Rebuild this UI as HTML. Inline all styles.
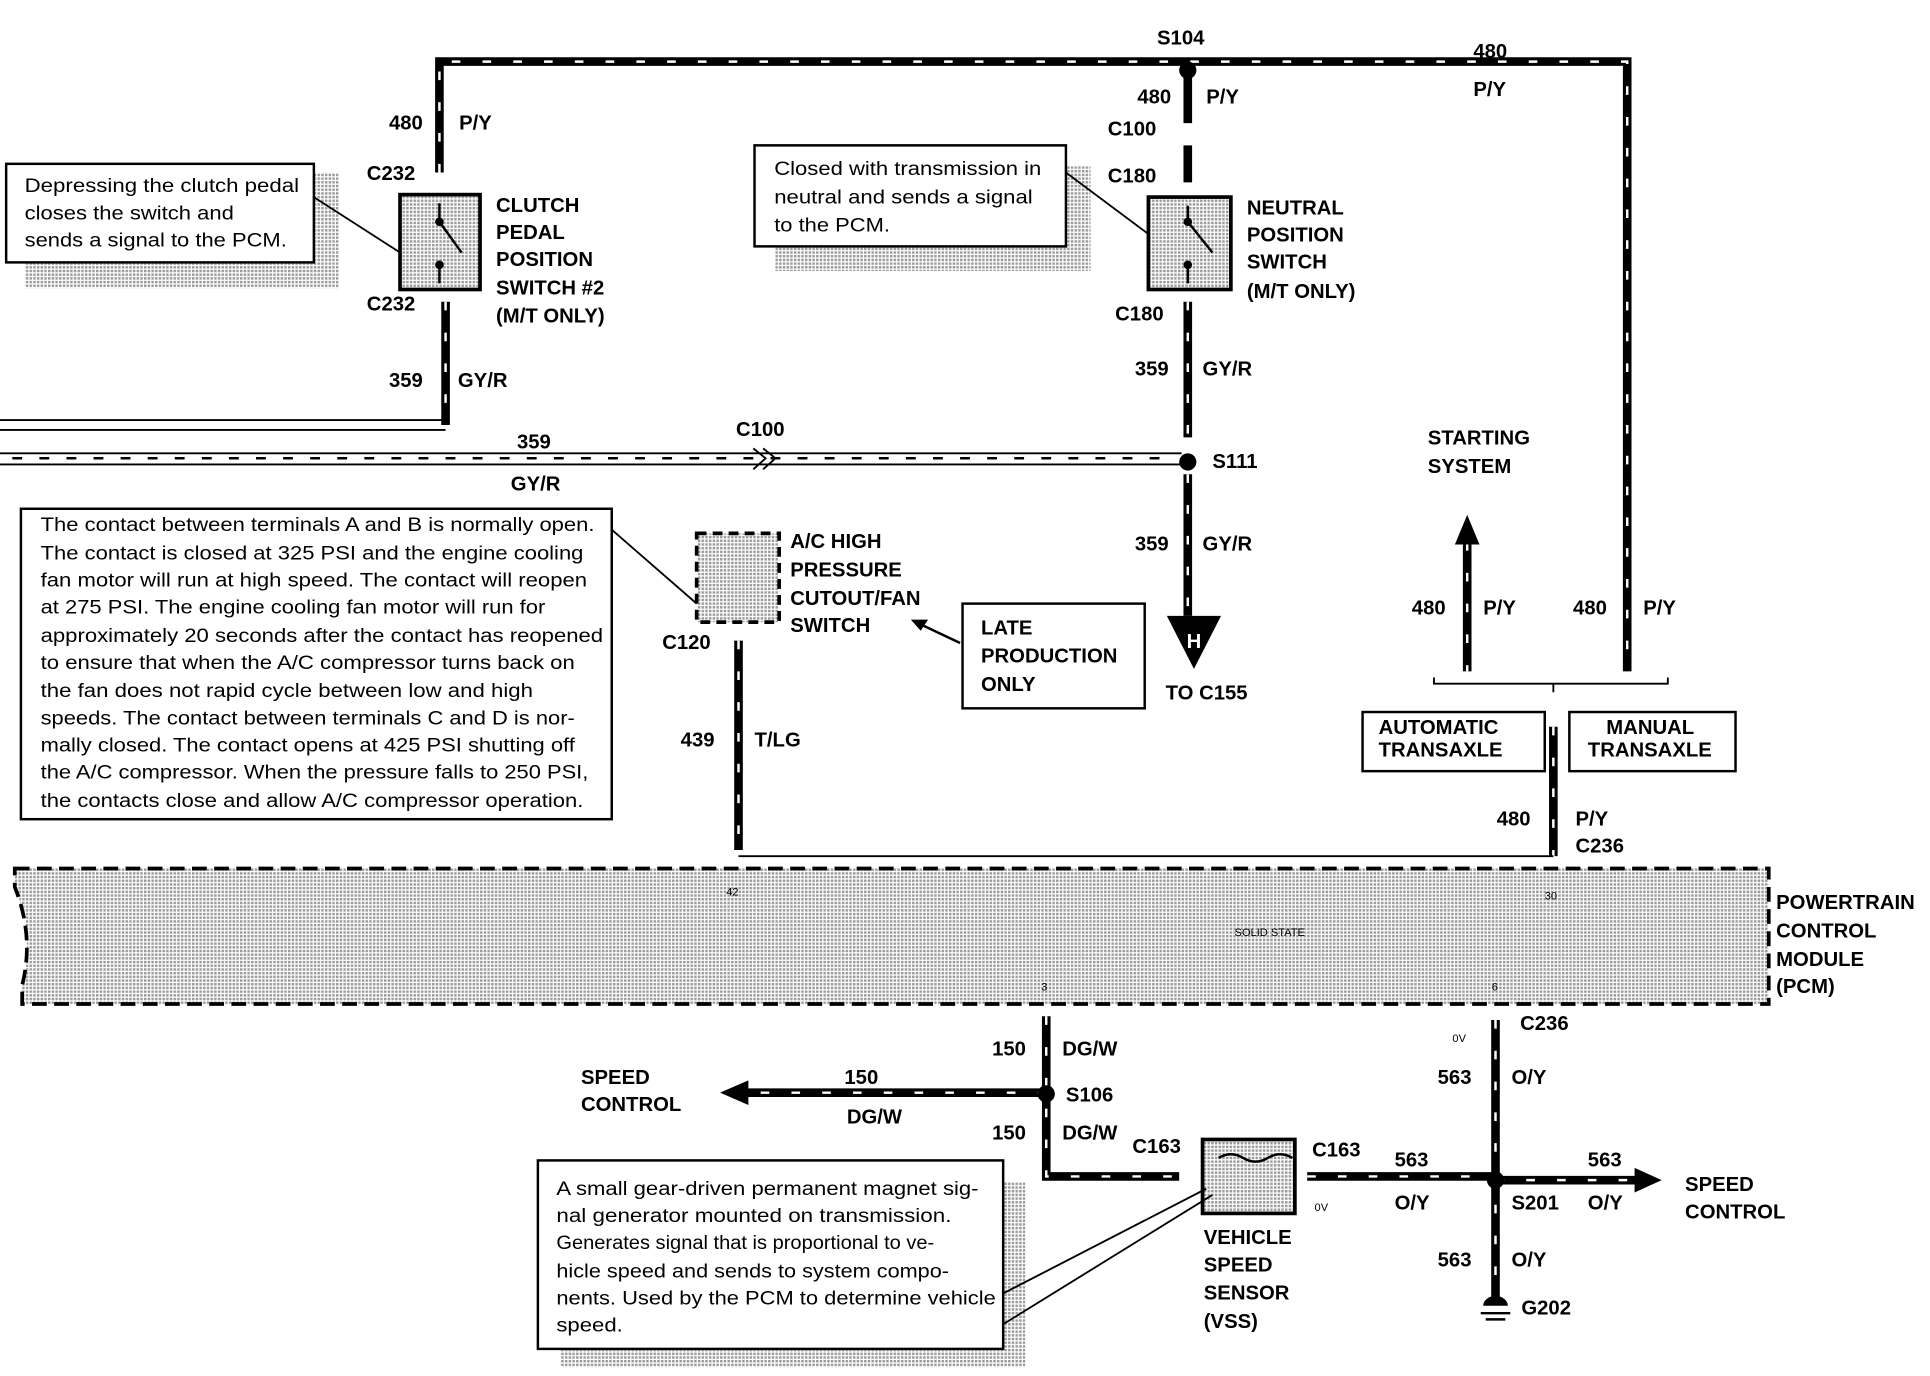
<!DOCTYPE html>
<html><head><meta charset="utf-8"><style>
html,body{margin:0;padding:0;background:#fff;}
svg{display:block;}
text{font-family:"Liberation Sans",Arial,sans-serif;fill:#000;}
.b{font-weight:bold;font-size:16.5px;}
.n{font-size:15.5px;}
.s{font-size:9px;}
</style></head><body>
<svg width="1930" height="1376" viewBox="0 0 1568 1117" preserveAspectRatio="none" xmlns="http://www.w3.org/2000/svg">
<defs>
<pattern id="st" width="3" height="3" patternUnits="userSpaceOnUse"><rect width="3" height="3" fill="#fff"/><rect width="2" height="2" fill="#9a9a9a"/></pattern>
</defs>
<g fill="none" stroke="#000" stroke-width="7">
<path d="M357 140 V50 H1322 V545"/>
<path d="M965 50 V100"/><path d="M965 118 V148"/>
<path d="M965 245 V355"/><path d="M965 385 V500"/>
<path d="M362 245 V345"/>
<path d="M600 520 V690"/>
<path d="M1262 590 V695"/>
<path d="M1192 440 V545"/>
<path d="M850 825 V955 H958"/>
<path d="M850 887 H605"/>
<path d="M1062 955 H1215"/>
<path d="M1215 828 V1058"/>
<path d="M1215 958 H1335"/>
</g>
<g fill="none" stroke="#fff" stroke-width="2" stroke-dasharray="7 18">
<path d="M357 140 V50 H1322 V545"/>
<path d="M965 245 V355"/><path d="M965 385 V500"/>
<path d="M362 245 V345"/><path d="M600 520 V690"/><path d="M1262 590 V695"/>
<path d="M1192 440 V545"/><path d="M850 825 V955 H958"/><path d="M850 887 H605"/>
<path d="M1062 955 H1215"/><path d="M1215 828 V1058"/><path d="M1215 958 H1335"/>
</g>
<g fill="none" stroke="#000" stroke-width="1.5">
<path d="M0 341 H362 M0 349 H362"/>
<path d="M0 368 H960 M0 377 H960"/>
<path d="M600 695 H1262"/>
<path d="M1165 550 V555 H1355 V550 M1262 555 V562"/>
<path d="M612 364 L622 372 L612 381 M620 364 L630 372 L620 381"/>
</g>
<g stroke="#000" stroke-width="2" stroke-dasharray="8 14"><path d="M10 372 H950"/></g>
<polygon points="1192,418 1182,442 1202,442" fill="#000"/>
<polygon points="585,887 608,877 608,897" fill="#000"/>
<polygon points="1350,958 1328,948 1328,968" fill="#000"/>
<polygon points="948,500 992,500 970,543" fill="#000"/>
<text x="970" y="526" class="b" text-anchor="middle" style="fill:#fff">H</text>
<line x1="780" y1="522" x2="742" y2="504" stroke="#000" stroke-width="2"/>
<polygon points="740,503 754,503 748,512" fill="#000"/>
<circle cx="965" cy="57" r="7"/><circle cx="965" cy="375" r="7"/>
<circle cx="850" cy="888" r="7"/><circle cx="1215" cy="958" r="7"/>
<path d="M1205 1060 a10 8 0 0 1 20 0 Z" fill="#000"/>
<path d="M1203 1066 H1227 M1207 1071 H1223" stroke="#000" stroke-width="2"/>
<rect x="325" y="158" width="65" height="77" fill="url(#st)" stroke="#000" stroke-width="3"/>
<rect x="933" y="160" width="67" height="75" fill="url(#st)" stroke="#000" stroke-width="3"/>
<rect x="566" y="433" width="67" height="72" fill="url(#st)" stroke="#000" stroke-width="3" stroke-dasharray="8 5"/>
<rect x="977" y="925" width="75" height="60" fill="url(#st)" stroke="#000" stroke-width="3"/>
<path d="M12 705 H1437 V815 H18 V800 Q28 760 12 720 Z" fill="url(#st)" stroke="#000" stroke-width="3" stroke-dasharray="12 6"/>
<rect x="20" y="212" width="240" height="22" fill="url(#st)"/><rect x="255" y="140" width="20" height="94" fill="url(#st)"/>
<rect x="5" y="133" width="250" height="80" fill="#fff" stroke="#000" stroke-width="2"/>
<path d="M255 160 L325 205" stroke="#000" stroke-width="1.5"/>
<rect x="630" y="200" width="250" height="20" fill="url(#st)"/><rect x="866" y="135" width="20" height="85" fill="url(#st)"/>
<rect x="613" y="118" width="253" height="82" fill="#fff" stroke="#000" stroke-width="2"/>
<path d="M866 140 L933 190" stroke="#000" stroke-width="1.5"/>
<rect x="17" y="413" width="480" height="252" fill="#fff" stroke="#000" stroke-width="2"/>
<path d="M497 430 L566 490" stroke="#000" stroke-width="1.5"/>
<rect x="782" y="490" width="148" height="85" fill="#fff" stroke="#000" stroke-width="2"/>
<rect x="455" y="1095" width="375" height="15" fill="url(#st)"/><rect x="815" y="960" width="18" height="150" fill="url(#st)"/>
<rect x="437" y="942" width="378" height="153" fill="#fff" stroke="#000" stroke-width="2"/>
<path d="M815 1050 L980 965 M815 1075 L985 970" stroke="#000" stroke-width="1.5"/>
<rect x="1107" y="578" width="148" height="48" fill="#fff" stroke="#000" stroke-width="2"/>
<rect x="1275" y="578" width="135" height="48" fill="#fff" stroke="#000" stroke-width="2"/>
<g class="b">
<text x="940" y="36">S104</text><text x="1197" y="47">480</text><text x="1197" y="78">P/Y</text>
<text x="924" y="84">480</text><text x="980" y="84">P/Y</text>
<text x="900" y="110">C100</text><text x="900" y="148">C180</text><text x="906" y="260">C180</text>
<text x="316" y="105">480</text><text x="373" y="105">P/Y</text>
<text x="298" y="146">C232</text><text x="298" y="252">C232</text>
<text x="403" y="172">CLUTCH</text><text x="403" y="194">PEDAL</text><text x="403" y="216">POSITION</text><text x="403" y="239">SWITCH #2</text><text x="403" y="262">(M/T ONLY)</text>
<text x="1013" y="174">NEUTRAL</text><text x="1013" y="196">POSITION</text><text x="1013" y="218">SWITCH</text><text x="1013" y="242">(M/T ONLY)</text>
<text x="316" y="314">359</text><text x="372" y="314">GY/R</text>
<text x="420" y="364">359</text><text x="415" y="398">GY/R</text><text x="598" y="354">C100</text>
<text x="922" y="305">359</text><text x="977" y="305">GY/R</text>
<text x="985" y="380">S111</text>
<text x="922" y="447">359</text><text x="977" y="447">GY/R</text>
<text x="947" y="568">TO C155</text>
<text x="1160" y="361">STARTING</text><text x="1160" y="384">SYSTEM</text>
<text x="1147" y="499">480</text><text x="1205" y="499">P/Y</text><text x="1278" y="499">480</text><text x="1335" y="499">P/Y</text>
<text x="1120" y="596">AUTOMATIC</text><text x="1120" y="614">TRANSAXLE</text>
<text x="1305" y="596">MANUAL</text><text x="1290" y="614">TRANSAXLE</text>
<text x="642" y="445">A/C HIGH</text><text x="642" y="468">PRESSURE</text><text x="642" y="491">CUTOUT/FAN</text><text x="642" y="513">SWITCH</text>
<text x="797" y="515">LATE</text><text x="797" y="538">PRODUCTION</text><text x="797" y="561">ONLY</text>
<text x="538" y="527">C120</text>
<text x="553" y="606">439</text><text x="613" y="606">T/LG</text>
<text x="1216" y="670">480</text><text x="1280" y="670">P/Y</text><text x="1280" y="692">C236</text>
<text x="1443" y="738">POWERTRAIN</text><text x="1443" y="761">CONTROL</text><text x="1443" y="784">MODULE</text><text x="1443" y="806">(PCM)</text>
<text x="1235" y="836">C236</text>
<text x="806" y="857">150</text><text x="863" y="857">DG/W</text>
<text x="472" y="880">SPEED</text><text x="472" y="902">CONTROL</text>
<text x="686" y="880">150</text><text x="688" y="912">DG/W</text>
<text x="866" y="894">S106</text>
<text x="806" y="925">150</text><text x="863" y="925">DG/W</text>
<text x="920" y="936">C163</text><text x="1066" y="939">C163</text><text x="1133" y="947">563</text><text x="1133" y="982">O/Y</text>
<text x="1168" y="880">563</text><text x="1228" y="880">O/Y</text>
<text x="1290" y="947">563</text><text x="1290" y="982">O/Y</text>
<text x="1228" y="982">S201</text>
<text x="1369" y="967">SPEED</text><text x="1369" y="989">CONTROL</text>
<text x="1168" y="1028">563</text><text x="1228" y="1028">O/Y</text>
<text x="1236" y="1067">G202</text>
<text x="978" y="1010">VEHICLE</text><text x="978" y="1032">SPEED</text><text x="978" y="1055">SENSOR</text><text x="978" y="1078">(VSS)</text>
</g>
<g class="s"><text x="590" y="727">42</text><text x="1255" y="730">30</text><text x="1003" y="760">SOLID STATE</text><text x="846" y="804">3</text><text x="1212" y="804">6</text><text x="1180" y="846">0V</text><text x="1068" y="983">0V</text></g>
<g class="n" lengthAdjust="spacingAndGlyphs">
<text x="20" y="156" textLength="223" lengthAdjust="spacingAndGlyphs">Depressing the clutch pedal</text>
<text x="20" y="178" textLength="170" lengthAdjust="spacingAndGlyphs">closes the switch and</text>
<text x="20" y="200" textLength="213" lengthAdjust="spacingAndGlyphs">sends a signal to the PCM.</text>
<text x="629" y="142" textLength="217" lengthAdjust="spacingAndGlyphs">Closed with transmission in</text>
<text x="629" y="165" textLength="210" lengthAdjust="spacingAndGlyphs">neutral and sends a signal</text>
<text x="629" y="188" textLength="94" lengthAdjust="spacingAndGlyphs">to the PCM.</text>
<text x="33" y="431" textLength="450" lengthAdjust="spacingAndGlyphs">The contact between terminals A and B is normally open.</text>
<text x="33" y="454" textLength="441" lengthAdjust="spacingAndGlyphs">The contact is closed at 325 PSI and the engine cooling</text>
<text x="33" y="476" textLength="444" lengthAdjust="spacingAndGlyphs">fan motor will run at high speed. The contact will reopen</text>
<text x="33" y="498" textLength="410" lengthAdjust="spacingAndGlyphs">at 275 PSI. The engine cooling fan motor will run for</text>
<text x="33" y="521" textLength="457" lengthAdjust="spacingAndGlyphs">approximately 20 seconds after the contact has reopened</text>
<text x="33" y="543" textLength="434" lengthAdjust="spacingAndGlyphs">to ensure that when the A/C compressor turns back on</text>
<text x="33" y="566" textLength="400" lengthAdjust="spacingAndGlyphs">the fan does not rapid cycle between low and high</text>
<text x="33" y="588" textLength="434" lengthAdjust="spacingAndGlyphs">speeds. The contact between terminals C and D is nor-</text>
<text x="33" y="610" textLength="434" lengthAdjust="spacingAndGlyphs">mally closed. The contact opens at 425 PSI shutting off</text>
<text x="33" y="632" textLength="445" lengthAdjust="spacingAndGlyphs">the A/C compressor. When the pressure falls to 250 PSI,</text>
<text x="33" y="655" textLength="441" lengthAdjust="spacingAndGlyphs">the contacts close and allow A/C compressor operation.</text>
<text x="452" y="970" textLength="343" lengthAdjust="spacingAndGlyphs">A small gear-driven permanent magnet sig-</text>
<text x="452" y="992" textLength="321" lengthAdjust="spacingAndGlyphs">nal generator mounted on transmission.</text>
<text x="452" y="1014" textLength="307" lengthAdjust="spacingAndGlyphs">Generates signal that is proportional to ve-</text>
<text x="452" y="1037" textLength="319" lengthAdjust="spacingAndGlyphs">hicle speed and sends to system compo-</text>
<text x="452" y="1059" textLength="357" lengthAdjust="spacingAndGlyphs">nents. Used by the PCM to determine vehicle</text>
<text x="452" y="1081" textLength="54" lengthAdjust="spacingAndGlyphs">speed.</text>
</g>
<g stroke="#000" stroke-width="2" fill="none">
<path d="M357 165 V180 L375 205 M357 215 V230"/><circle cx="357" cy="180" r="2.5" fill="#000"/><circle cx="357" cy="215" r="2.5" fill="#000"/>
<path d="M965 167 V180 L985 205 M965 215 V230"/><circle cx="965" cy="180" r="2.5" fill="#000"/><circle cx="965" cy="215" r="2.5" fill="#000"/>
<path d="M990 940 q10 -6 20 0 t20 0 t20 0"/>
</g>
</svg>
</body></html>
